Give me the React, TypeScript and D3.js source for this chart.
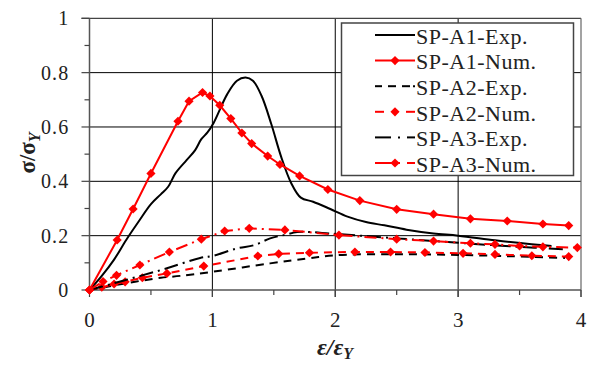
import * as d3 from "d3";

type Pt = [number, number];

// strain ratio vs stress ratio
const a1Exp: Pt[] = [
  [0, 0], [0.1, 0.052], [0.2, 0.112], [0.3, 0.185], [0.4, 0.252], [0.5, 0.316], [0.58, 0.352],
  [0.64, 0.38], [0.7, 0.43], [0.79, 0.478], [0.86, 0.515], [0.91, 0.555], [0.96, 0.58],
  [1.01, 0.615], [1.12, 0.72], [1.2, 0.77], [1.27, 0.782], [1.33, 0.77], [1.4, 0.715],
  [1.48, 0.61], [1.56, 0.49], [1.64, 0.395], [1.72, 0.34], [1.82, 0.325], [1.96, 0.298],
  [2.1, 0.27], [2.25, 0.25], [2.4, 0.238], [2.58, 0.222], [2.8, 0.208], [3.0, 0.2],
  [3.3, 0.183], [3.56, 0.17], [3.76, 0.162],
];
const a1Num: Pt[] = [
  [0, 0], [0.225, 0.184], [0.355, 0.298], [0.5, 0.429], [0.72, 0.621], [0.81, 0.695],
  [0.92, 0.727], [0.98, 0.714], [1.06, 0.68], [1.15, 0.631], [1.24, 0.578], [1.32, 0.539],
  [1.45, 0.493], [1.55, 0.462], [1.71, 0.42], [1.94, 0.37], [2.2, 0.329], [2.5, 0.297],
  [2.8, 0.279], [3.1, 0.262], [3.4, 0.254], [3.69, 0.243], [3.9, 0.237],
];
const a2Exp: Pt[] = [
  [0, 0], [0.3, 0.025], [0.58, 0.045], [0.74, 0.052], [1.0, 0.067], [1.47, 0.098],
  [1.77, 0.116], [2.0, 0.128], [2.5, 0.132], [3.0, 0.129], [3.45, 0.124], [3.87, 0.118],
];
const a2Num: Pt[] = [
  [0, 0], [0.1, 0.01], [0.2, 0.022], [0.29, 0.03], [0.43, 0.045], [0.63, 0.061], [0.93, 0.088],
  [1.37, 0.125], [1.54, 0.133], [1.79, 0.137], [2.16, 0.14], [2.45, 0.14], [2.73, 0.138],
  [3.04, 0.135], [3.3, 0.131], [3.6, 0.126], [3.9, 0.123],
];
const a3Exp: Pt[] = [
  [0, 0], [0.2, 0.025], [0.39, 0.049], [0.63, 0.08], [0.9, 0.118], [1.0, 0.125], [1.2, 0.153],
  [1.34, 0.165], [1.47, 0.19], [1.58, 0.202], [1.69, 0.213], [1.8, 0.213], [1.95, 0.208],
  [2.2, 0.2], [2.5, 0.19], [3.0, 0.174], [3.45, 0.16], [3.87, 0.15],
];
const a3Num: Pt[] = [
  [0, 0], [0.11, 0.031], [0.22, 0.054], [0.41, 0.092], [0.65, 0.14], [0.91, 0.187], [1.1, 0.217],
  [1.3, 0.227], [1.59, 0.221], [2.03, 0.202], [2.5, 0.187], [2.8, 0.18], [3.1, 0.172],
  [3.3, 0.168], [3.5, 0.162], [3.69, 0.159], [3.97, 0.156],
];

const xTicks = [0, 1, 2, 3, 4];
const xMinor = [0.5, 1.5, 2.5, 3.5];
const yTicks = [0, 0.2, 0.4, 0.6, 0.8, 1];
const yMinor = [0.1, 0.3, 0.5, 0.7, 0.9];
const yTickLabels = ["0", "0.2", "0.4", "0.6", "0.8", "1"];

const seriesNames = ["SP-A1-Exp.", "SP-A1-Num.", "SP-A2-Exp.", "SP-A2-Num.", "SP-A3-Exp.", "SP-A3-Num."];

const serif = { fontFamily: "'Liberation Serif'" };

const x = d3.scaleLinear().domain([0, 4]).range([89.5, 581]);
const y = d3.scaleLinear().domain([0, 1]).range([290, 18.3]);

const line = d3.line<Pt>().x(d => x(d[0])).y(d => y(d[1]));
const smooth = d3.line<Pt>().x(d => x(d[0])).y(d => y(d[1])).curve(d3.curveCatmullRom);
const diamond = d3.symbol().type(d3.symbolSquare).size(42)() as string;

const series = [
  { name: seriesNames[0], data: a1Exp, color: "#000", dash: undefined, marker: false },
  { name: seriesNames[1], data: a1Num, color: "#ff0000", dash: undefined, marker: true },
  { name: seriesNames[2], data: a2Exp, color: "#000", dash: "8,6", marker: false },
  { name: seriesNames[3], data: a2Num, color: "#ff0000", dash: "8,6", marker: true },
  { name: seriesNames[4], data: a3Exp, color: "#000", dash: "14,5,2,5", marker: false },
  { name: seriesNames[5], data: a3Num, color: "#ff0000", dash: "12,5,2,5", marker: true },
];

// legend sample segments per row (x from, x to)
const legendSegs: [number, number][][] = [
  [[375, 415]],
  [[375, 415]],
  [[375, 382], [388, 396], [402, 410], [413, 415]],
  [[375, 384], [406, 415]],
  [[375, 391], [398, 400], [407, 415]],
  [[375, 400], [407, 415]],
];

const Diamond = ({ cx, cy, fill }: { cx: number; cy: number; fill: string }) => (
  <path d={diamond} transform={`translate(${cx},${cy}) rotate(45)`} fill={fill} />
);

export default function App() {
  const rowY = (i: number) => 35 + i * 25.6;
  return (
    <svg width={589} height={365} style={{ position: "absolute", left: 0, top: 0, background: "#fff" }}>
      {/* gridlines */}
      {[0.2, 0.4, 0.6, 0.8].map(v => (
        <line key={`gy${v}`} x1={x(0)} x2={x(4)} y1={y(v)} y2={y(v)} stroke="#000" strokeWidth={1} />
      ))}
      {[1, 2, 3].map(v => (
        <line key={`gx${v}`} x1={x(v)} x2={x(v)} y1={y(1)} y2={y(0) + 7} stroke="#000" strokeWidth={1} />
      ))}
      {/* frame */}
      <line x1={x(0) - 8} x2={x(4)} y1={y(1)} y2={y(1)} stroke="#444" strokeWidth={1.2} />
      <line x1={x(4)} x2={x(4)} y1={y(1)} y2={y(0) + 7} stroke="#666" strokeWidth={1.2} />

      {/* y axis */}
      <line x1={x(0)} x2={x(0)} y1={y(1)} y2={y(0)} stroke="#555" strokeWidth={1.5} />
      {yTicks.map(v => (
        <line key={`yt${v}`} x1={x(0) - 8} x2={x(0)} y1={y(v)} y2={y(v)} stroke="#444" strokeWidth={1.2} />
      ))}
      {yMinor.map(v => (
        <line key={`ym${v}`} x1={x(0) - 5} x2={x(0)} y1={y(v)} y2={y(v)} stroke="#444" strokeWidth={1.2} />
      ))}
      {yTicks.map((v, i) => (
        <text key={`yl${v}`} x={x(0) - 20} y={y(v)} dy="0.35em" textAnchor="end" fontSize={20}
          letterSpacing={1.2} fill="#222" style={serif}>
          {yTickLabels[i]}
        </text>
      ))}

      {/* x axis */}
      <line x1={x(0)} x2={x(4)} y1={y(0)} y2={y(0)} stroke="#555" strokeWidth={1.5} />
      {xTicks.map(v => (
        <line key={`xt${v}`} x1={x(v)} x2={x(v)} y1={y(0)} y2={y(0) + 7} stroke="#444" strokeWidth={1.2} />
      ))}
      {xMinor.map(v => (
        <line key={`xm${v}`} x1={x(v)} x2={x(v)} y1={y(0)} y2={y(0) + 5} stroke="#444" strokeWidth={1.2} />
      ))}
      {xTicks.map(v => (
        <text key={`xl${v}`} x={x(v)} y={y(0) + 37} textAnchor="middle" fontSize={21} fill="#222" style={serif}>
          {v}
        </text>
      ))}

      {/* curves */}
      {series.map(s => (
        <g key={s.name}>
          <path d={(s.marker ? line : smooth)(s.data) ?? ""} fill="none" stroke={s.color}
            strokeWidth={2} strokeDasharray={s.dash} />
          {s.marker && s.data.map((d, j) => <Diamond key={j} cx={x(d[0])} cy={y(d[1])} fill={s.color} />)}
        </g>
      ))}

      {/* legend */}
      <rect x={341.5} y={23} width={232} height={152.5} fill="#fff" stroke="#444" strokeWidth={1.5} />
      {series.map((s, i) => (
        <g key={`lg${i}`}>
          {legendSegs[i].map(([a, b], k) => (
            <line key={k} x1={a} x2={b} y1={rowY(i)} y2={rowY(i)} stroke={s.color} strokeWidth={2} />
          ))}
          {s.marker && <Diamond cx={395} cy={rowY(i)} fill={s.color} />}
          <text x={416} y={rowY(i) + 1} dy="0.35em" fontSize={22} letterSpacing={0.5} fill="#222" style={serif}>
            {s.name}
          </text>
        </g>
      ))}

      {/* axis titles */}
      <text x={335} y={355} textAnchor="middle" fontSize={24} fontStyle="italic" fontWeight="bold"
        fill="#222" style={serif}>
        <tspan>ε/ε</tspan>
        <tspan dy={4} fontSize={16}>Y</tspan>
      </text>
      <text transform="translate(35,153) rotate(-90)" textAnchor="middle" fontSize={23} fontWeight="bold"
        fill="#222" style={serif}>
        <tspan>σ/σ</tspan>
        <tspan dy={5} fontSize={16} fontStyle="italic">Y</tspan>
      </text>
    </svg>
  );
}
